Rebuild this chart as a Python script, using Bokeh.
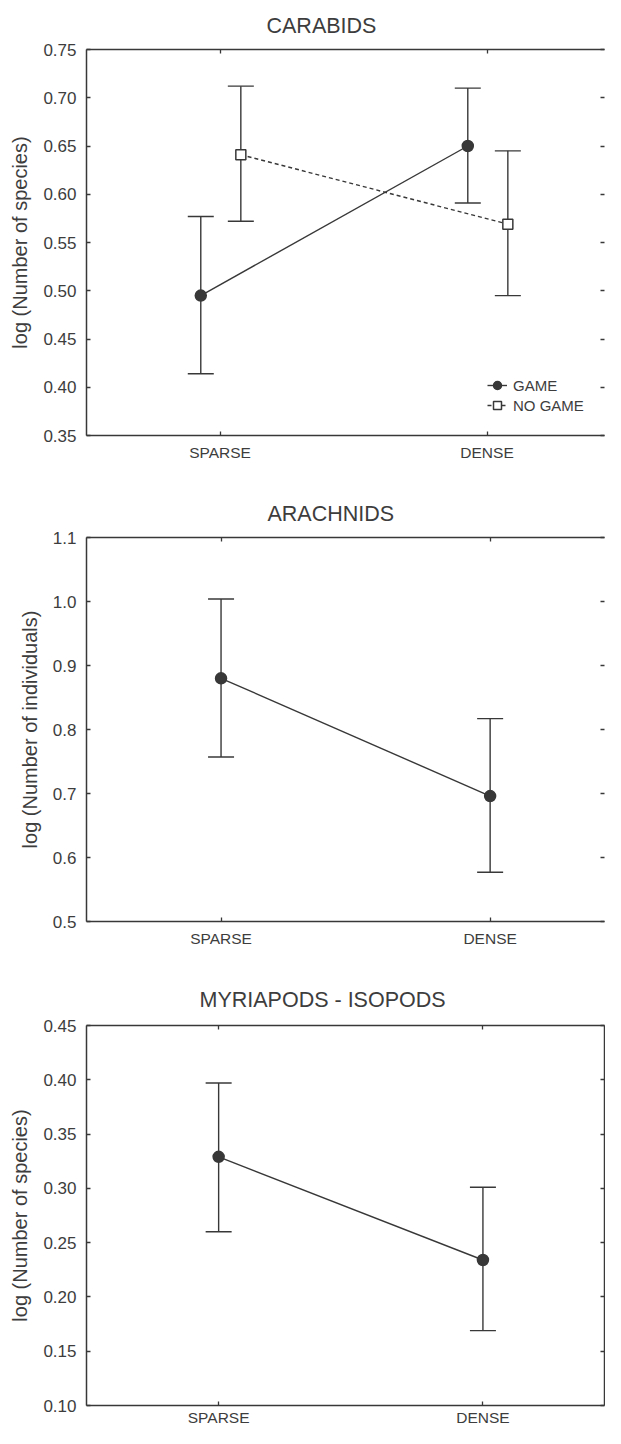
from bokeh.plotting import figure
from bokeh.layouts import column
from bokeh.models import (ColumnDataSource, Whisker, TeeHead, LinearAxis, FixedTicker,
                          NumeralTickFormatter, Range1d, Legend, LegendItem)
from bokeh.embed import file_html
from bokeh.resources import INLINE

# ---------------- data ----------------
categories = ["SPARSE", "DENSE"]

carabids_game_mean = [0.495, 0.650]
carabids_game_upper = [0.577, 0.710]
carabids_game_lower = [0.414, 0.591]
carabids_nogame_mean = [0.641, 0.569]
carabids_nogame_upper = [0.712, 0.645]
carabids_nogame_lower = [0.572, 0.495]

arachnids_mean = [0.880, 0.696]
arachnids_upper = [1.004, 0.817]
arachnids_lower = [0.757, 0.577]

myriapods_mean = [0.329, 0.234]
myriapods_upper = [0.397, 0.301]
myriapods_lower = [0.260, 0.169]

carabids_yticks = [0.35, 0.40, 0.45, 0.50, 0.55, 0.60, 0.65, 0.70, 0.75]
arachnids_yticks = [0.5, 0.6, 0.7, 0.8, 0.9, 1.0, 1.1]
myriapods_yticks = [0.10, 0.15, 0.20, 0.25, 0.30, 0.35, 0.40, 0.45]

# ---------------- style ----------------
FONT = "Liberation Sans"
INK = "#383838"
TXT = "#3d3d3d"
W = 605
xticks = [i + 1 for i in range(len(categories))]


def make_fig(title, ylabel, yr, yticks, yfmt, x_end, height, left, right, top, bottom,
             title_offset, title_standoff, right_line, xstandoff):
    p = figure(width=W, height=height, x_range=Range1d(0.5, x_end), y_range=Range1d(*yr),
               output_backend="svg", toolbar_location=None,
               x_axis_location=None, y_axis_location=None,
               min_border_left=left, min_border_right=right,
               min_border_top=top, min_border_bottom=bottom)
    p.outline_line_color = None
    p.xgrid.visible = False
    p.ygrid.visible = False
    p.background_fill_color = "white"
    p.border_fill_color = "white"

    p.title.text = title
    p.title.align = "left"
    p.title.offset = title_offset
    p.title.standoff = title_standoff
    p.title.text_font = FONT
    p.title.text_font_size = "21.5px"
    p.title.text_font_style = "normal"
    p.title.text_color = TXT

    common = dict(axis_line_color=INK, axis_line_width=1.5,
                  major_tick_line_color=INK, major_tick_line_width=1.3,
                  major_tick_in=4, major_tick_out=0,
                  minor_tick_in=0, minor_tick_out=0, minor_tick_line_color=None)

    bottom_ax = LinearAxis(ticker=FixedTicker(ticks=xticks),
                           major_label_overrides={t: c for t, c in zip(xticks, categories)},
                           major_label_text_font=FONT, major_label_text_font_size="15.5px",
                           major_label_text_color=TXT, major_label_standoff=xstandoff, **common)
    left_ax = LinearAxis(ticker=FixedTicker(ticks=yticks),
                         formatter=NumeralTickFormatter(format=yfmt),
                         axis_label=ylabel, axis_label_text_font=FONT,
                         axis_label_text_font_size="20px", axis_label_text_font_style="normal",
                         axis_label_text_color=TXT, axis_label_standoff=9,
                         major_label_text_font=FONT, major_label_text_font_size="17px",
                         major_label_text_color=TXT, major_label_standoff=10, **common)
    # frame box: top and right axes carry only inward ticks, no labels
    top_ax = LinearAxis(ticker=FixedTicker(ticks=xticks), major_label_text_color=None,
                        major_label_standoff=0, **common)
    rc = dict(common)
    if not right_line:
        rc["axis_line_color"] = None
    right_ax = LinearAxis(ticker=FixedTicker(ticks=yticks), major_label_text_color=None,
                          major_label_standoff=0, **rc)
    p.add_layout(bottom_ax, "below")
    p.add_layout(left_ax, "left")
    p.add_layout(top_ax, "above")
    p.add_layout(right_ax, "right")
    return p


def add_series(p, mean, upper, lower, offset, marker, fill, dash, size):
    src = ColumnDataSource(dict(x=[t + offset for t in xticks], mean=mean,
                                upper=upper, lower=lower))
    w = Whisker(base="x", upper="upper", lower="lower", source=src,
                line_color=INK, line_width=1.4,
                upper_head=TeeHead(size=26, line_color=INK, line_width=1.4),
                lower_head=TeeHead(size=26, line_color=INK, line_width=1.4))
    p.add_layout(w)
    lr = p.line("x", "mean", source=src, line_color=INK, line_width=1.4, line_dash=dash)
    sr = p.scatter("x", "mean", source=src, marker=marker, size=size,
                   fill_color=fill, line_color=INK, line_width=1.5)
    return lr, sr


# ---------------- CARABIDS ----------------
p1 = make_fig("CARABIDS", "log (Number of species)", (0.35, 0.75), carabids_yticks, "0.00",
              2.44, 478, 86, 0, 48, 43, 180, 22.6, False, 8)
g_l, g_s = add_series(p1, carabids_game_mean, carabids_game_upper, carabids_game_lower,
                      -0.072, "circle", INK, "solid", 11)
n_l, n_s = add_series(p1, carabids_nogame_mean, carabids_nogame_upper, carabids_nogame_lower,
                      0.078, "square", "white", "4 3", 10)
legend = Legend(items=[LegendItem(label="GAME", renderers=[g_l, g_s]),
                       LegendItem(label="NO GAME", renderers=[n_l, n_s])],
                location=(401, 20), orientation="vertical",
                glyph_width=20, glyph_height=20, label_height=20, label_standoff=6,
                padding=0, spacing=0, margin=0,
                border_line_color=None, background_fill_alpha=0,
                label_text_font=FONT, label_text_font_size="15px", label_text_color=TXT)
p1.add_layout(legend)

# ---------------- ARACHNIDS ----------------
p2 = make_fig("ARACHNIDS", "log (Number of individuals)", (0.5, 1.1), arachnids_yticks, "0.0",
              2.425, 492, 84, 0, 59, 49, 181, 24, False, 8)
add_series(p2, arachnids_mean, arachnids_upper, arachnids_lower, 0.0, "circle", INK, "solid", 11)

# ---------------- MYRIAPODS - ISOPODS ----------------
p3 = make_fig("MYRIAPODS - ISOPODS", "log (Number of species)", (0.10, 0.45), myriapods_yticks,
              "0.00", 2.46, 458, 84, 1, 55, 20, 113, 27.6, True, 3)
add_series(p3, myriapods_mean, myriapods_upper, myriapods_lower, 0.0, "circle", INK, "solid", 11)

layout = column(p1, p2, p3, spacing=0)
open("out.html", "w").write(file_html(layout, INLINE))
